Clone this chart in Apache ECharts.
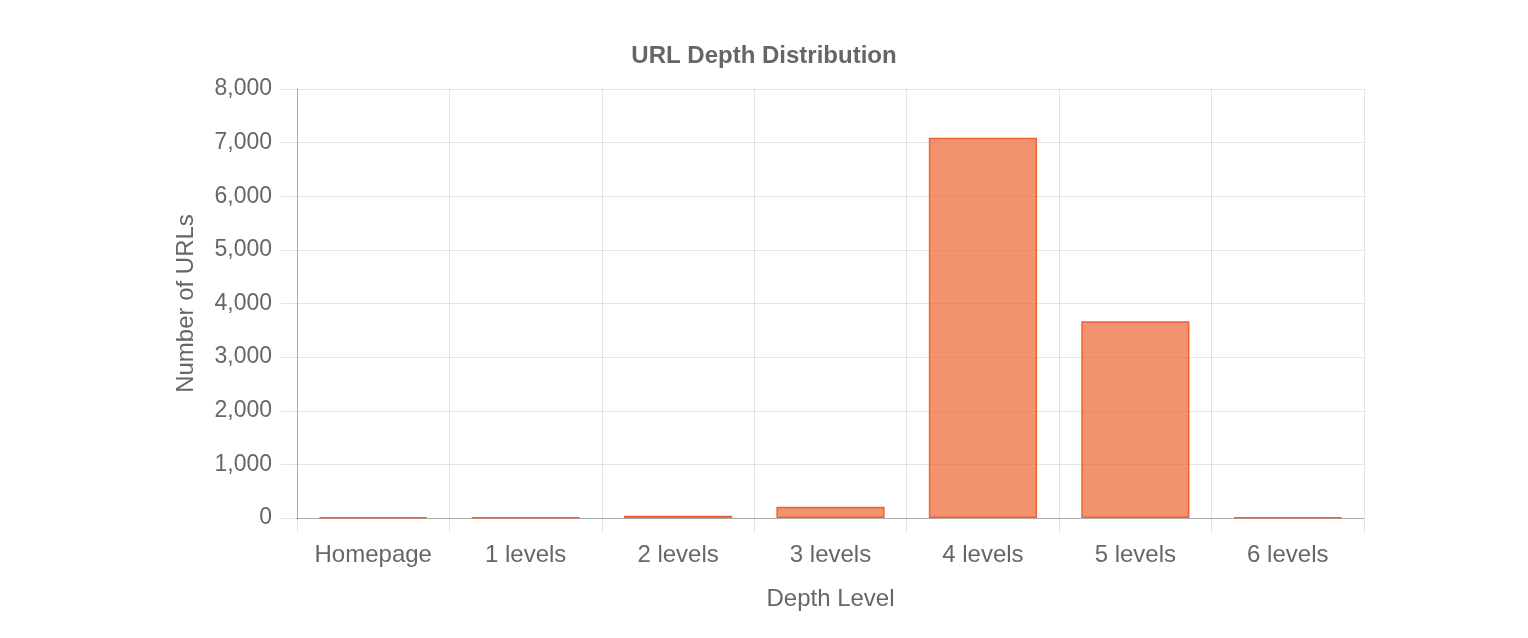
<!DOCTYPE html>
<html>
<head>
<meta charset="utf-8">
<script src="https://cdn.jsdelivr.net/npm/echarts@6/dist/echarts.min.js"></script>
<style>
    html, body { margin: 0; padding: 0; background: #fff; }
    #chart { width: 1528px; height: 638px; }
</style>
</head>
<body>
<div id="chart"></div>
<script>
// values
const depthLevels = ['Homepage', '1 levels', '2 levels', '3 levels', '4 levels', '5 levels', '6 levels'];
const urlCounts = [12, 5, 40, 210, 7090, 3670, 8];
const yTicks = [0, 1000, 2000, 3000, 4000, 5000, 6000, 7000, 8000];

const font = '"Liberation Sans", Arial, Helvetica, sans-serif';
const gridColor = 'rgba(0,0,0,0.1)';

const myChart = echarts.init(document.getElementById('chart'));
const option = {
    animation: false,
    title: {
        text: 'URL Depth Distribution',
        left: 'center',
        top: 39,
        textStyle: { fontFamily: font, fontSize: 24, fontWeight: 'bold', color: '#666' }
    },
    grid: { left: 297, right: 164, top: 89, bottom: 120, containLabel: false },
    xAxis: {
        type: 'category',
        data: depthLevels,
        name: 'Depth Level',
        nameLocation: 'middle',
        nameGap: 69,
        nameTextStyle: { fontFamily: font, fontSize: 24, color: '#666' },
        axisLine: { lineStyle: { color: 'rgba(0,0,0,0.25)' } },
        axisTick: { show: true, interval: 0, length: 15, lineStyle: { color: gridColor } },
        axisLabel: { interval: 0, fontFamily: font, fontSize: 24, color: '#666', margin: 25 },
        splitLine: { show: true, interval: 0, lineStyle: { color: gridColor } }
    },
    yAxis: {
        type: 'value',
        min: yTicks[0],
        max: yTicks[yTicks.length - 1],
        interval: 1000,
        name: 'Number of URLs',
        nameLocation: 'middle',
        nameGap: 99,
        nameTextStyle: { fontFamily: font, fontSize: 24, color: '#666' },
        axisLine: { show: true, lineStyle: { color: 'rgba(0,0,0,0.25)' } },
        axisTick: { show: true, length: 16, lineStyle: { color: gridColor } },
        axisLabel: {
            fontFamily: font, fontSize: 23, color: '#666', margin: 25,
            formatter: function (v) { return v.toLocaleString('en-US'); }
        },
        splitLine: { show: true, lineStyle: { color: gridColor } }
    },
    series: [{
        type: 'bar',
        data: urlCounts,
        barWidth: '71%',
        itemStyle: {
            color: 'rgba(237,104,54,0.72)',
            borderColor: '#ec6430',
            borderWidth: 1.5
        }
    }]
};
myChart.setOption(option);
</script>
</body>
</html>
